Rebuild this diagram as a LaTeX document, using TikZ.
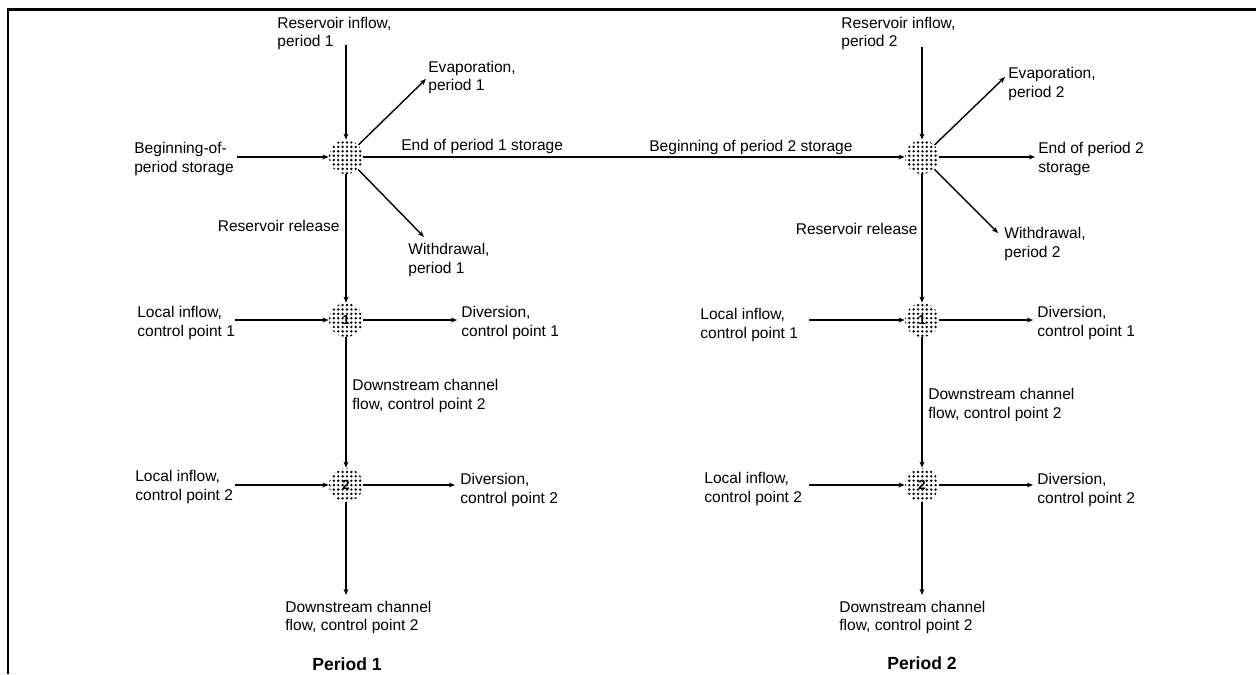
\documentclass[tikz,border=0pt]{standalone}
\usepackage{fontspec}
\setmainfont{Liberation Sans}
\usetikzlibrary{arrows.meta,patterns}
\pgfdeclarepatternformonly{pooldots}{\pgfqpoint{-1pt}{-1pt}}{\pgfqpoint{1pt}{1pt}}{\pgfqpoint{2.5pt}{2.5pt}}{\pgfpathcircle{\pgfqpoint{0pt}{0pt}}{0.75pt}\pgfusepath{fill}}
\tikzset{
  pool/.style={circle, minimum size=0.68cm, inner sep=0pt, pattern=pooldots, font=\fontsize{7.5}{7.5}\selectfont\bfseries},
  lbl/.style={align=left, inner sep=0pt, font=\fontsize{8.85}{10.6}\selectfont},
  flow/.style={line width=0.8pt, ->},
  periodlbl/.style={inner sep=0pt, font=\fontsize{10}{12}\selectfont\bfseries}
}
\begin{document}
\begin{tikzpicture}[x=0.02cm, y=-0.02cm, >={Stealth[length=3.5pt,width=2.8pt]}]
            \useasboundingbox (0,0) rectangle (1256,674);
            \draw [line width=1.7pt] (8,674) -- (8,9) -- (1256,9);

            % period 1
            \node [pool] (res1) at (346,157) {};
            \node [pool] (cp11) at (346,320) {1};
            \node [pool] (cp12) at (346,485) {2};
            \node [lbl, anchor=west] (in1)  at (277,33.5) {Reservoir inflow,\\period 1};
            \node [lbl, anchor=west] (ev1)  at (428,77.5) {Evaporation,\\period 1};
            \node [lbl, anchor=west] (bg1)  at (134,159)  {Beginning-of-\\period storage};
            \node [lbl, anchor=west] (en1)  at (401,146)  {End of period 1 storage};
            \node [lbl, anchor=east] (rr1)  at (340,226)  {Reservoir release};
            \node [lbl, anchor=west] (wd1)  at (408,260)  {Withdrawal,\\period 1};
            \node [lbl, anchor=west] (li11) at (137,323)  {Local inflow,\\control point 1};
            \node [lbl, anchor=west] (dv11) at (461,323)  {Diversion,\\control point 1};
            \node [lbl, anchor=west] (ds1)  at (352,396)  {Downstream channel\\flow, control point 2};
            \node [lbl, anchor=west] (li12) at (135,487)  {Local inflow,\\control point 2};
            \node [lbl, anchor=west] (dv12) at (460,490)  {Diversion,\\control point 2};
            \node [lbl, anchor=west] (out1) at (285,617.5) {Downstream channel\\flow, control point 2};
            \node [periodlbl] (p1) at (347,664) {Period 1};
            \coordinate (in1s)  at (346,45);
            \coordinate (ev1e)  at (426,79);
            \coordinate (bg1s)  at (237,157);
            \coordinate (wd1e)  at (424,237);
            \coordinate (li11s) at (235,320);
            \coordinate (dv11e) at (457,320);
            \coordinate (li12s) at (235,485);
            \coordinate (dv12e) at (455,485);
            \coordinate (out1e) at (346,595);
            \draw [flow] (in1s)  -- (res1);
            \draw [flow] (res1)  -- (ev1e);
            \draw [flow] (bg1s)  -- (res1);
            \draw [flow] (res1)  -- (wd1e);
            \draw [flow] (res1)  -- (cp11);
            \draw [flow] (li11s) -- (cp11);
            \draw [flow] (cp11)  -- (dv11e);
            \draw [flow] (cp11)  -- (cp12);
            \draw [flow] (li12s) -- (cp12);
            \draw [flow] (cp12)  -- (dv12e);
            \draw [flow] (cp12)  -- (out1e);

            % period 2
            \node [pool] (res2) at (922,157) {};
            \node [pool] (cp21) at (922,320) {1};
            \node [pool] (cp22) at (922,485) {2};
            \node [lbl, anchor=west] (in2)  at (841,33.5) {Reservoir inflow,\\period 2};
            \node [lbl, anchor=west] (ev2)  at (1008,84)  {Evaporation,\\period 2};
            \node [lbl, anchor=west] (bg2)  at (649,147)  {Beginning of period 2 storage};
            \node [lbl, anchor=west] (en2)  at (1038,159) {End of period 2\\storage};
            \node [lbl, anchor=east] (rr2)  at (918,229)  {Reservoir release};
            \node [lbl, anchor=west] (wd2)  at (1004,244) {Withdrawal,\\period 2};
            \node [lbl, anchor=west] (li21) at (700,325)  {Local inflow,\\control point 1};
            \node [lbl, anchor=west] (dv21) at (1037,323) {Diversion,\\control point 1};
            \node [lbl, anchor=west] (ds2)  at (928,405)  {Downstream channel\\flow, control point 2};
            \node [lbl, anchor=west] (li22) at (704,489)  {Local inflow,\\control point 2};
            \node [lbl, anchor=west] (dv22) at (1037,490) {Diversion,\\control point 2};
            \node [lbl, anchor=west] (out2) at (839,617.5) {Downstream channel\\flow, control point 2};
            \node [periodlbl] (p2) at (922,663) {Period 2};
            \coordinate (in2s)  at (922,47);
            \coordinate (ev2e)  at (1005,77);
            \coordinate (en2e)  at (1035,157);
            \coordinate (wd2e)  at (998,233);
            \coordinate (li21s) at (809,320);
            \coordinate (dv21e) at (1033,320);
            \coordinate (li22s) at (809,485);
            \coordinate (dv22e) at (1033,485);
            \coordinate (out2e) at (922,595);
            \draw [flow] (res1)  -- (res2);
            \draw [flow] (in2s)  -- (res2);
            \draw [flow] (res2)  -- (ev2e);
            \draw [flow] (res2)  -- (en2e);
            \draw [flow] (res2)  -- (wd2e);
            \draw [flow] (res2)  -- (cp21);
            \draw [flow] (li21s) -- (cp21);
            \draw [flow] (cp21)  -- (dv21e);
            \draw [flow] (cp21)  -- (cp22);
            \draw [flow] (li22s) -- (cp22);
            \draw [flow] (cp22)  -- (dv22e);
            \draw [flow] (cp22)  -- (out2e);
\end{tikzpicture}
\end{document}
